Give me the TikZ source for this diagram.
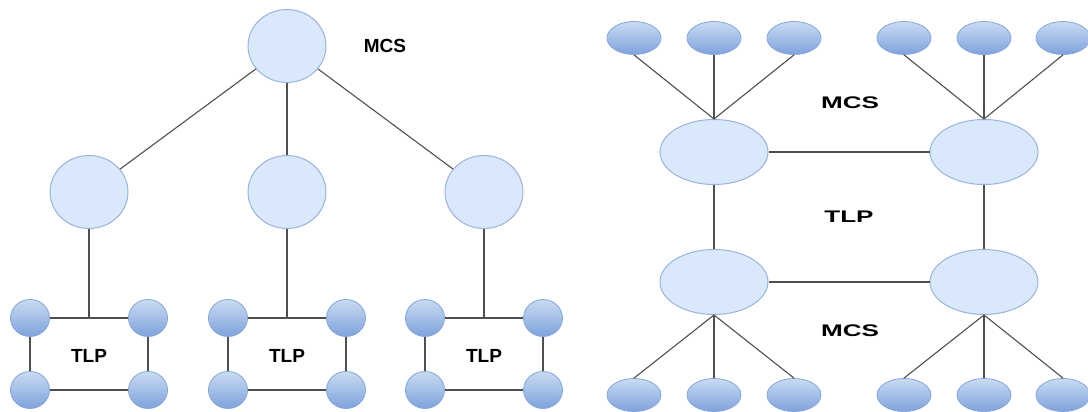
\documentclass[tikz,border=0pt]{standalone}
\usepackage{fontspec}
\setmainfont{Liberation Sans}
\usetikzlibrary{shapes.geometric}
\definecolor{bigfill}{HTML}{DAE8FC}
\definecolor{bigedge}{HTML}{98B3DE}
\definecolor{smalltop}{HTML}{C9DBF3}
\definecolor{smallbot}{HTML}{7EA2DC}
\definecolor{smalledge}{HTML}{86A6DA}
\definecolor{wire}{HTML}{4F4F4F}
\begin{document}
\begin{tikzpicture}[x=1pt,y=-1pt,
  big/.style={ellipse,draw=bigedge,fill=bigfill,line width=1pt,inner sep=0pt},
  bigcirc/.style={big,minimum width=78pt,minimum height=73pt},
  bigoval/.style={big,minimum width=108pt,minimum height=65pt},
  small/.style={ellipse,draw=smalledge,top color=smalltop,bottom color=smallbot,line width=0.8pt,inner sep=0pt},
  smallcirc/.style={small,minimum width=39pt,minimum height=37pt},
  smalloval/.style={small,minimum width=54pt,minimum height=33pt},
  wire/.style={draw=wire,line width=1.1pt},
  lbl/.style={font=\bfseries\fontsize{19}{21}\selectfont,inner sep=0pt},
  wlbl/.style={font=\bfseries\fontsize{16.8}{19}\selectfont,inner sep=0pt,xscale=1.55}]
\useasboundingbox (0,0) rectangle (1088,412);

% ---- hierarchical layout ----
\node[bigcirc] (root) at (287,46) {};
\node[lbl] (mcsA) at (385,46) {MCS};
\foreach \i/\x in {1/89,2/287,3/484} {
  \node[bigcirc] (m\i) at (\x,192) {};
  \draw[wire] (root) -- (m\i);
  \pgfmathsetmacro{\xl}{\x-59}
  \pgfmathsetmacro{\xr}{\x+59}
  \coordinate (tl\i) at (\xl,318);
  \coordinate (tr\i) at (\xr,318);
  \coordinate (bl\i) at (\xl,390);
  \coordinate (br\i) at (\xr,390);
  \coordinate (j\i) at (\x,318);
  \draw[wire] (tl\i) -- (tr\i) -- (br\i) -- (bl\i) -- cycle;
  \draw[wire] (m\i) -- (j\i);
  \node[smallcirc] (ctl\i) at (tl\i) {};
  \node[smallcirc] (ctr\i) at (tr\i) {};
  \node[smallcirc] (cbl\i) at (bl\i) {};
  \node[smallcirc] (cbr\i) at (br\i) {};
  \node[lbl] (tlp\i) at (\x,356) {TLP};
}

% ---- mesh layout ----
\node[bigoval] (a) at (714,152) {};
\node[bigoval] (b) at (984,152) {};
\node[bigoval] (c) at (714,282) {};
\node[bigoval] (d) at (984,282) {};
\draw[wire] (a) -- (b);
\draw[wire] (c) -- (d);
\draw[wire] (a) -- (c);
\draw[wire] (b) -- (d);
\foreach \k/\x in {1/634,2/714,3/794} {
  \node[smalloval] (ua\k) at (\x,38) {};
  \draw[wire] (ua\k.south) -- (a.north);
  \node[smalloval] (lc\k) at (\x,395) {};
  \draw[wire] (c.south) -- (lc\k.north);
}
\foreach \k/\x in {1/904,2/984,3/1063} {
  \node[smalloval] (ub\k) at (\x,38) {};
  \draw[wire] (ub\k.south) -- (b.north);
  \node[smalloval] (ld\k) at (\x,395) {};
  \draw[wire] (d.south) -- (ld\k.north);
}
\node[wlbl] (mcsB) at (850,102.5) {MCS};
\node[wlbl] (tlpB) at (849,217) {TLP};
\node[wlbl] (mcsC) at (850,331) {MCS};
\end{tikzpicture}
\end{document}
